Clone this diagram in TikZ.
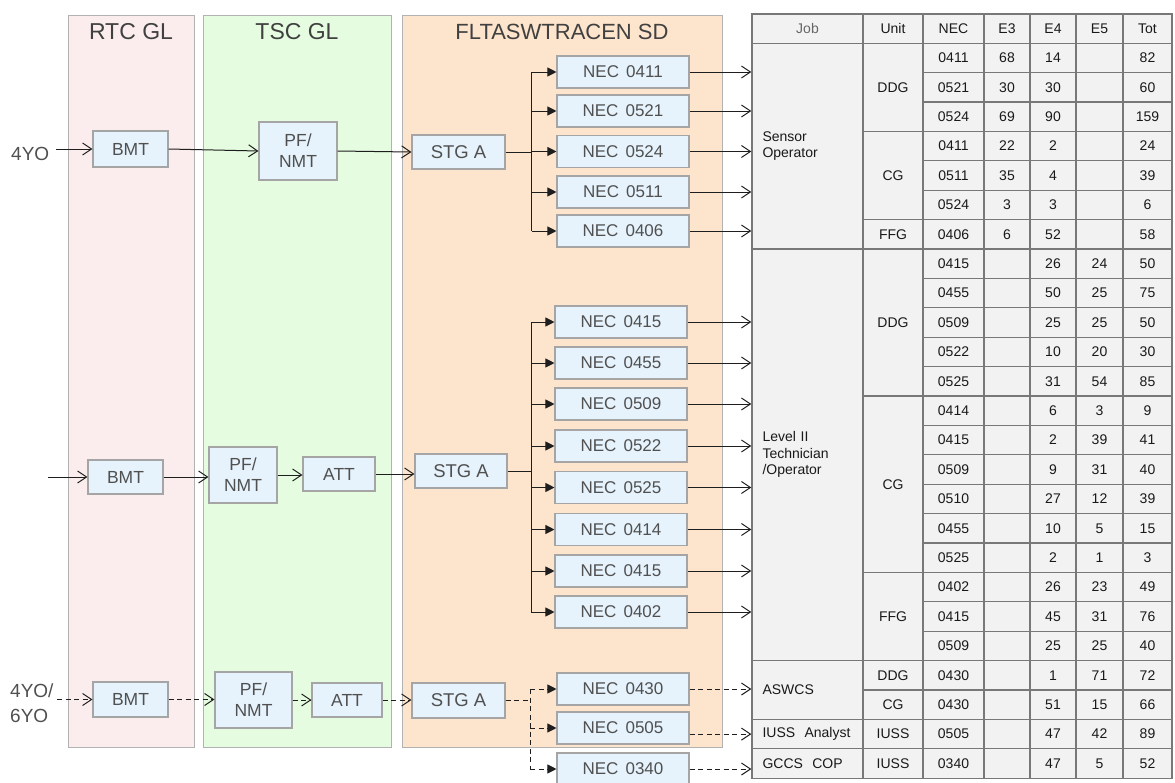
\documentclass[tikz,border=0pt]{standalone}
\usepackage{fontspec}
\setmainfont{Liberation Sans}
\usetikzlibrary{arrows.meta,calc}
\definecolor{pinkfill}{RGB}{251,237,237}
\definecolor{greenfill}{RGB}{229,252,224}
\definecolor{peachfill}{RGB}{253,228,204}
\definecolor{boxfill}{RGB}{230,243,252}
\definecolor{boxdraw}{RGB}{165,165,165}
\definecolor{lanedraw}{RGB}{178,178,178}
\definecolor{txtgray}{RGB}{80,80,80}
\definecolor{tablefill}{RGB}{242,242,242}
\definecolor{tabledraw}{RGB}{120,120,120}
\definecolor{linecol}{RGB}{30,30,30}
\newcommand\bxfont{\fontsize{17.5}{21}\selectfont}
\newcommand\tbfont{\fontsize{14}{16.5}\selectfont}
\newcommand\ttlfont{\fontsize{23}{26}\selectfont}
\newcommand\necsp{\hspace{0.42em}}
\begin{document}
\begin{tikzpicture}[x=1pt,y=-1pt,
  lane/.style={draw=lanedraw,line width=1.2pt,inner sep=0},
  lanetitle/.style={text=txtgray!80!black,font=\ttlfont,inner sep=0},
  box/.style={draw=boxdraw,fill=boxfill,line width=1.1pt,text=txtgray,font=\bxfont,inner sep=0,align=center},
  flow/.style={line width=1pt,draw=linecol,-{Straight Barb[length=9pt,width=12pt,line width=1pt]}},
  dashflow/.style={flow,dash pattern=on 5pt off 3.5pt},
  branch/.style={line width=1pt,draw=linecol,-{Triangle[length=9pt,width=9pt]}},
  dashbranch/.style={branch,dash pattern=on 5pt off 3.5pt},
  trunk/.style={line width=1pt,draw=linecol},
  dashtrunk/.style={trunk,dash pattern=on 5pt off 3.5pt},
  cell/.style={draw=tabledraw,fill=tablefill,line width=1.3pt,inner sep=0,font=\tbfont,text=black!90},
  lbl/.style={text=txtgray,font=\fontsize{19}{25}\selectfont,inner sep=0,align=left}
]
\useasboundingbox (0,0) rectangle (1175,782);

% lanes
\node[lane,fill=pinkfill,minimum width=126pt,minimum height=732pt,anchor=north west] (rtc) at (68,15) {};
\node[lane,fill=greenfill,minimum width=188pt,minimum height=732pt,anchor=north west] (tsc) at (203,15) {};
\node[lane,fill=peachfill,minimum width=320pt,minimum height=732pt,anchor=north west] (flt) at (402,15) {};
\node[lanetitle] (rtct) at (131,32) {RTC GL};
\node[lanetitle] (tsct) at (297,32) {TSC GL};
\node[lanetitle,font=\fontsize{22}{26}\selectfont] (fltt) at (562,32) {FLTASWTRACEN SD};

% ===== table =====
% header
\node[cell,minimum width=111pt,minimum height=29.2pt,text=black!60] (hjob) at (807.5,28.6) {Job};
\node[cell,minimum width=60pt,minimum height=29.2pt] (hunit) at (893,28.6) {Unit};
\node[cell,minimum width=61pt,minimum height=29.2pt] (hnec) at (953.5,28.6) {NEC};
\node[cell,minimum width=46pt,minimum height=29.2pt] (he3) at (1007,28.6) {E3};
\node[cell,minimum width=46pt,minimum height=29.2pt] (he4) at (1053,28.6) {E4};
\node[cell,minimum width=47pt,minimum height=29.2pt] (he5) at (1099.5,28.6) {E5};
\node[cell,minimum width=49pt,minimum height=29.2pt] (htot) at (1147.5,28.6) {Tot};

% data rows
\foreach \r/\nc/\ea/\eb/\ec/\tt in {
 1/0411/68/14/{}/82, 2/0521/30/30/{}/60, 3/0524/69/90/{}/159,
 4/0411/22/2/{}/24, 5/0511/35/4/{}/39, 6/0524/3/3/{}/6, 7/0406/6/52/{}/58,
 8/0415/{}/26/24/50, 9/0455/{}/50/25/75, 10/0509/{}/25/25/50, 11/0522/{}/10/20/30,
 12/0525/{}/31/54/85, 13/0414/{}/6/3/9, 14/0415/{}/2/39/41, 15/0509/{}/9/31/40,
 16/0510/{}/27/12/39, 17/0455/{}/10/5/15, 18/0525/{}/2/1/3, 19/0402/{}/26/23/49,
 20/0415/{}/45/31/76, 21/0509/{}/25/25/40, 22/0430/{}/1/71/72, 23/0430/{}/51/15/66,
 24/0505/{}/47/42/89, 25/0340/{}/47/5/52}{
  \pgfmathsetmacro\yc{43.2+(\r-0.5)*29.4}
  \node[cell,minimum width=61pt,minimum height=29.4pt] (nec\r) at (953.5,\yc) {\nc};
  \node[cell,minimum width=46pt,minimum height=29.4pt] (ea\r) at (1007,\yc) {\ea};
  \node[cell,minimum width=46pt,minimum height=29.4pt] (eb\r) at (1053,\yc) {\eb};
  \node[cell,minimum width=47pt,minimum height=29.4pt] (ec\r) at (1099.5,\yc) {\ec};
  \node[cell,minimum width=49pt,minimum height=29.4pt] (tot\r) at (1147.5,\yc) {\tt};
}

% unit column
\foreach \i/\a/\n/\lab in {1/1/3/DDG, 2/4/3/CG, 3/7/1/FFG, 4/8/5/DDG, 5/13/6/CG,
  6/19/3/FFG, 7/22/1/DDG, 8/23/1/CG, 9/24/1/IUSS, 10/25/1/IUSS}{
  \pgfmathsetmacro\yc{43.2+(\a-1+\n/2)*29.4}
  \pgfmathsetmacro\hh{\n*29.4}
  \node[cell,minimum width=60pt,minimum height=\hh pt] (unit\i) at (893,\yc) {\lab};
}

% job column
\foreach \nm/\a/\n/\lab in {jobSO/1/7/{Sensor\\Operator}, jobLT/8/14/{Level II\\Technician\\/Operator},
  jobASW/22/2/{ASWCS}, jobIUSS/24/1/{IUSS\ \ Analyst}, jobGCCS/25/1/{GCCS\ \ COP}}{
  \pgfmathsetmacro\yc{43.2+(\a-1+\n/2)*29.4}
  \pgfmathsetmacro\hh{\n*29.4}
  \node[cell,minimum height=\hh pt,text width=90pt,inner xsep=10.5pt,align=left] (\nm) at (807.5,\yc) {\lab};
}

% ===== row 1 =====
\node[lbl,anchor=west] (yo1) at (11,154) {4YO};
\node[box,minimum width=75pt,minimum height=36pt] (bmt1) at (130.5,149) {BMT};
\node[box,minimum width=78pt,minimum height=58pt] (pf1) at (298,151) {PF/\\NMT};
\node[box,minimum width=93pt,minimum height=34pt,font=\fontsize{18.5}{21}\selectfont] (stg1) at (458.5,152) {STG A};
\coordinate (br1) at (531.7,152);
\foreach \i/\lab/\yy in {1/0411/72, 2/0521/111, 3/0524/151.5, 4/0511/192, 5/0406/231}{
  \node[box,minimum width=132pt,minimum height=32pt,font=\fontsize{17}{20}\selectfont] (g\i) at (623,\yy) {NEC\necsp\lab};
  \draw[branch] (br1 |- g\i.west) -- (g\i.west);
  \draw[flow] (g\i.east) -- (g\i.east -| jobSO.west);
}
\draw[flow,shorten <=7pt] (yo1.east |- bmt1.west) -- (bmt1.west);
\draw[flow] (bmt1.east) -- (pf1.west);
\draw[flow] (pf1.east) -- (stg1.west);
\draw[trunk] (stg1.east) -- (br1);
\draw[trunk] (br1 |- g1.west) -- (br1 |- g5.west);

% ===== row 2 =====
\coordinate (in2) at (48,477);
\node[box,minimum width=75pt,minimum height=34pt] (bmt2) at (125.5,477) {BMT};
\node[box,minimum width=68pt,minimum height=56pt] (pf2) at (243,475) {PF/\\NMT};
\node[box,minimum width=72pt,minimum height=34pt] (att2) at (339,474) {ATT};
\node[box,minimum width=92pt,minimum height=34pt,font=\fontsize{18.5}{21}\selectfont] (stg2) at (461,471) {STG A};
\coordinate (br2) at (531,471);
\foreach \i/\lab/\yy in {1/0415/322, 2/0455/363, 3/0509/404, 4/0522/446, 5/0525/487.5,
  6/0414/529.5, 7/0415/571, 8/0402/612}{
  \node[box,minimum width=132pt,minimum height=32pt,font=\fontsize{17}{20}\selectfont] (m\i) at (621,\yy) {NEC\necsp\lab};
  \draw[branch] (br2 |- m\i.west) -- (m\i.west);
  \draw[flow] (m\i.east) -- (m\i.east -| jobLT.west);
}
\draw[flow] (in2) -- (bmt2.west);
\draw[flow] (bmt2.east) -- (bmt2.east -| pf2.west);
\draw[flow] (pf2.east) -- (pf2.east -| att2.west);
\draw[flow] (att2.east) -- (att2.east -| stg2.west);
\draw[trunk] (stg2.east) -- (br2);
\draw[trunk] (br2 |- m1.west) -- (br2 |- m8.west);

% ===== row 3 =====
\node[lbl,anchor=west] (yo3) at (10,703) {4YO/\\6YO};
\node[box,minimum width=75pt,minimum height=35pt] (bmt3) at (130.5,699.5) {BMT};
\node[box,minimum width=77pt,minimum height=56pt] (pf3) at (253.5,700) {PF/\\NMT};
\node[box,minimum width=70pt,minimum height=34pt] (att3) at (347,700) {ATT};
\node[box,minimum width=93pt,minimum height=35pt,font=\fontsize{18.5}{21}\selectfont] (stg3) at (458.5,700.5) {STG A};
\coordinate (in3) at (57,699.5);
\coordinate (br3) at (530,700.5);
\node[box,minimum width=132pt,minimum height=32pt,font=\fontsize{17}{20}\selectfont] (k1) at (623,689) {NEC\necsp0430};
\node[box,minimum width=132pt,minimum height=32pt,font=\fontsize{17}{20}\selectfont] (k2) at (623,728) {NEC\necsp0505};
\node[box,minimum width=132pt,minimum height=32pt,font=\fontsize{17}{20}\selectfont] (k3) at (623,769) {NEC\necsp0340};
\draw[dashflow] (in3) -- (bmt3.west);
\draw[dashflow] (bmt3.east) -- (bmt3.east -| pf3.west);
\draw[dashflow] (pf3.east) -- (pf3.east -| att3.west);
\draw[dashflow] (att3.east) -- (att3.east -| stg3.west);
\draw[dashtrunk] (stg3.east) -- (br3);
\draw[dashtrunk] (br3 |- k1.west) -- (br3 |- k3.west);
\foreach \i in {1,2,3}{
  \draw[dashbranch] (br3 |- k\i.west) -- (k\i.west);
}
\draw[dashflow] (k1.east) -- (k1.east -| jobASW.west);
\draw[dashflow] (k2.east |- jobIUSS.west) -- (jobIUSS.west);
\draw[dashflow] (k3.east) -- (k3.east -| jobGCCS.west);
\end{tikzpicture}
\end{document}
